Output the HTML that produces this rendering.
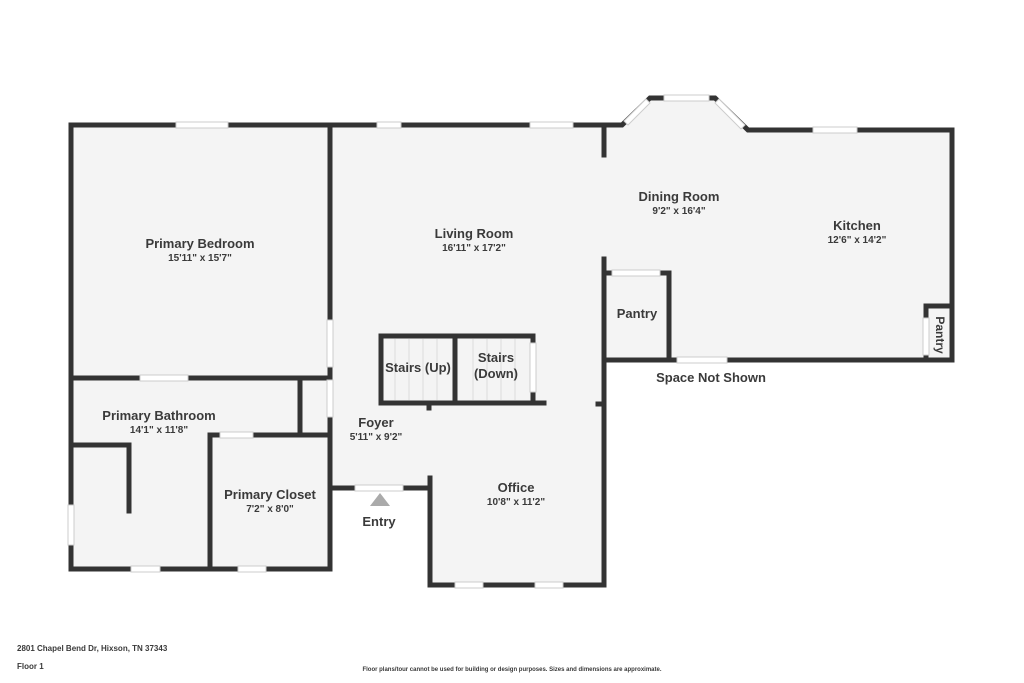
<!DOCTYPE html><html><head><style>body{margin:0;background:#fff}svg{display:block}text{font-family:"Liberation Sans",sans-serif;fill:#3a3a3a;font-weight:bold}</style></head><body>
<svg width="1024" height="683" viewBox="0 0 1024 683">
<g fill="#f4f4f4">
<rect x="71" y="125" width="259" height="444"/>
<rect x="330" y="125" width="274" height="363"/>
<rect x="430" y="480" width="174" height="107"/>
<polygon points="604,125 622,125 650,96 715,96 750,130 953,130 953,360 604,360"/>
</g>
<g stroke="#333" stroke-width="5" fill="none" stroke-linecap="square">
<!-- top wall -->
<polyline points="71,569 71,125 622,125 650,98 715,98 748,130 952,130 952,360 604,360"/>
<line x1="604" y1="125" x2="604" y2="155"/>
<line x1="604" y1="259" x2="604" y2="585"/>
<polyline points="71,569 330,569 330,417"/>
<polyline points="330,128 330,320"/>
<line x1="330" y1="367" x2="330" y2="378"/>
<line x1="71" y1="378" x2="330" y2="378"/>
<line x1="300" y1="378" x2="300" y2="435"/>
<line x1="210" y1="435" x2="330" y2="435"/>
<line x1="210" y1="435" x2="210" y2="569"/>
<polyline points="71,445 129,445 129,511"/>
<line x1="330" y1="488" x2="430" y2="488"/>
<polyline points="430,478 430,585 604,585"/>
<line x1="598" y1="404" x2="604" y2="404"/>
<polyline points="604,273 669,273 669,360"/>
<polyline points="926,355 926,306 952,306"/>
<!-- stairs -->
<polyline points="381,403 381,336 533,336 533,343"/>
<line x1="381" y1="403" x2="544" y2="403"/>
<line x1="455" y1="336" x2="455" y2="403"/>
<line x1="533" y1="392" x2="533" y2="403"/>
<line x1="429" y1="403" x2="429" y2="408"/>
</g>
<g stroke="#ddd" stroke-width="1">
<line x1="395" y1="339" x2="395" y2="400"/><line x1="409" y1="339" x2="409" y2="400"/><line x1="423" y1="339" x2="423" y2="400"/><line x1="437" y1="339" x2="437" y2="400"/>
<line x1="473" y1="339" x2="473" y2="400"/><line x1="487" y1="339" x2="487" y2="400"/><line x1="501" y1="339" x2="501" y2="400"/><line x1="515" y1="339" x2="515" y2="400"/>
</g>
<!-- openings / windows -->
<g fill="#fff" stroke="#ccc" stroke-width="1">
<rect x="176" y="122" width="52" height="6"/>
<rect x="377" y="122" width="24" height="6"/>
<rect x="530" y="122" width="43" height="6"/>
<rect x="664" y="95" width="45" height="6"/>
<rect x="813" y="127" width="44" height="6"/>
<rect x="140" y="375" width="48" height="6"/>
<rect x="220" y="432" width="33" height="6"/>
<rect x="68" y="505" width="6" height="40"/>
<rect x="131" y="566" width="29" height="6"/>
<rect x="238" y="566" width="28" height="6"/>
<rect x="327" y="320" width="6" height="47"/>
<rect x="327" y="380" width="6" height="37"/>
<rect x="355" y="485" width="48" height="6"/>
<rect x="455" y="582" width="28" height="6"/>
<rect x="535" y="582" width="28" height="6"/>
<rect x="612" y="270" width="48" height="6"/>
<rect x="677" y="357" width="50" height="6"/>
<rect x="923" y="318" width="6" height="37"/>
<rect x="530" y="343" width="6" height="49"/>
<polygon points="624,121 646,99 650,103 628,125" />
<polygon points="719,99 745,125 741,129 715,103"/>
</g>
<polygon points="370,506 380,493 390,506" fill="#aaa"/>
<g text-anchor="middle">
<text x="200" y="248" font-size="13">Primary Bedroom</text><text x="200" y="261" font-size="10">15'11" x 15'7"</text>
<text x="474" y="238" font-size="13">Living Room</text><text x="474" y="251" font-size="10">16'11" x 17'2"</text>
<text x="679" y="201" font-size="13">Dining Room</text><text x="679" y="214" font-size="10">9'2" x 16'4"</text>
<text x="857" y="230" font-size="13">Kitchen</text><text x="857" y="243" font-size="10">12'6" x 14'2"</text>
<text x="159" y="420" font-size="13">Primary Bathroom</text><text x="159" y="433" font-size="10">14'1" x 11'8"</text>
<text x="270" y="499" font-size="13">Primary Closet</text><text x="270" y="512" font-size="10">7'2" x 8'0"</text>
<text x="376" y="427" font-size="13">Foyer</text><text x="376" y="440" font-size="10">5'11" x 9'2"</text>
<text x="516" y="492" font-size="13">Office</text><text x="516" y="505" font-size="10">10'8" x 11'2"</text>
<text x="418" y="372" font-size="13">Stairs (Up)</text>
<text x="496" y="362" font-size="13">Stairs</text><text x="496" y="378" font-size="13">(Down)</text>
<text x="637" y="318" font-size="13">Pantry</text>
<text x="379" y="526" font-size="13">Entry</text>
<text x="711" y="382" font-size="13">Space Not Shown</text>
<text transform="translate(936,335) rotate(90)" font-size="12">Pantry</text>
<text x="512" y="671" font-size="6" font-weight="normal">Floor plans/tour cannot be used for building or design purposes. Sizes and dimensions are approximate.</text>
</g>
<text x="17" y="651" font-size="8">2801 Chapel Bend Dr, Hixson, TN 37343</text>
<text x="17" y="669" font-size="8">Floor 1</text>
</svg></body></html>
